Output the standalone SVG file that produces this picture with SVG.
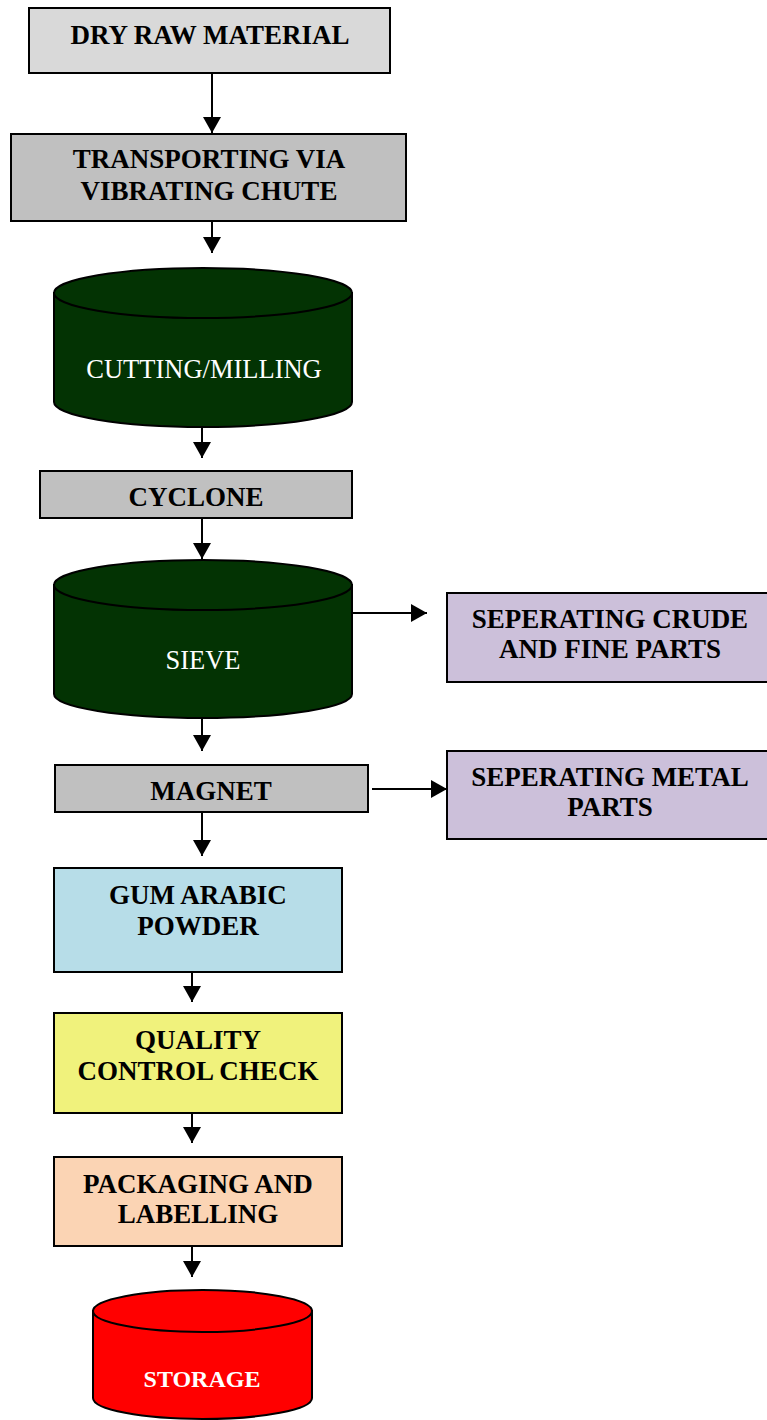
<svg xmlns="http://www.w3.org/2000/svg" width="767" height="1420" viewBox="0 0 767 1420">
<defs>
<style>
.box{stroke:#000;stroke-width:2}
.t{font-family:"Liberation Serif","Times New Roman",serif;font-weight:bold;font-size:27px;fill:#000;text-anchor:middle}
.w{font-family:"Liberation Serif","Times New Roman",serif;font-size:26.5px;fill:#fff;text-anchor:middle}
.c{stroke:#000;stroke-width:2;fill:none;marker-end:url(#ah)}
</style>
<marker id="ah" markerUnits="userSpaceOnUse" markerWidth="18" markerHeight="18" refX="16" refY="9" orient="auto">
<path d="M0,0 L16,9 L0,18 Z" fill="#000"/>
</marker>
</defs>
<rect width="767" height="1420" fill="#fff"/>
<g id="connectors">
<line class="c" x1="212" y1="73" x2="212" y2="133"/>
<line class="c" x1="212" y1="221" x2="212" y2="253"/>
<line class="c" x1="202" y1="427" x2="202" y2="458"/>
<line class="c" x1="202" y1="518" x2="202" y2="559"/>
<line class="c" x1="352" y1="613" x2="427" y2="613"/>
<line class="c" x1="202" y1="718" x2="202" y2="751"/>
<line class="c" x1="372" y1="789" x2="447" y2="789"/>
<line class="c" x1="202" y1="812" x2="202" y2="856"/>
<line class="c" x1="192" y1="972" x2="192" y2="1002"/>
<line class="c" x1="192" y1="1113" x2="192" y2="1143"/>
<line class="c" x1="192" y1="1246" x2="192" y2="1277"/>
</g>
<g id="dry-raw-material">
<rect class="box" x="29" y="8" width="361" height="65" fill="#d9d9d9"/>
<text class="t" x="210" y="44">DRY RAW MATERIAL</text>
</g>
<g id="transporting">
<rect class="box" x="11" y="134" width="395" height="87" fill="#c0c0c0"/>
<text class="t" x="209" y="168">TRANSPORTING VIA</text>
<text class="t" x="209" y="200">VIBRATING CHUTE</text>
</g>
<g id="cutting-milling">
<path class="box" d="M54,293 L54,402 A149,25 0 0 0 352,402 L352,293 Z" fill="#033303"/>
<ellipse class="box" cx="203" cy="293" rx="149" ry="25" fill="#033303"/>
<text class="w" x="204" y="378">CUTTING/MILLING</text>
</g>
<g id="cyclone">
<rect class="box" x="40" y="471" width="312" height="47" fill="#c0c0c0"/>
<text class="t" x="196" y="506">CYCLONE</text>
</g>
<g id="sieve">
<path class="box" d="M54,585 L54,694 A149,24 0 0 0 352,694 L352,585 Z" fill="#033303"/>
<ellipse class="box" cx="203" cy="585" rx="149" ry="25" fill="#033303"/>
<text class="w" x="203" y="669">SIEVE</text>
</g>
<g id="separating-crude">
<rect class="box" x="447" y="593" width="322" height="89" fill="#ccc0da"/>
<text class="t" x="610" y="628">SEPERATING CRUDE</text>
<text class="t" x="610" y="658">AND FINE PARTS</text>
</g>
<g id="magnet">
<rect class="box" x="55" y="765" width="313" height="47" fill="#c0c0c0"/>
<text class="t" x="211" y="800">MAGNET</text>
</g>
<g id="separating-metal">
<rect class="box" x="447" y="751" width="322" height="88" fill="#ccc0da"/>
<text class="t" x="610" y="786">SEPERATING METAL</text>
<text class="t" x="610" y="816">PARTS</text>
</g>
<g id="gum-arabic-powder">
<rect class="box" x="54" y="868" width="288" height="104" fill="#b7dde8"/>
<text class="t" x="198" y="904">GUM ARABIC</text>
<text class="t" x="198" y="935">POWDER</text>
</g>
<g id="quality-control">
<rect class="box" x="54" y="1013" width="288" height="100" fill="#f0f27c"/>
<text class="t" x="198" y="1049">QUALITY</text>
<text class="t" x="198" y="1080">CONTROL CHECK</text>
</g>
<g id="packaging">
<rect class="box" x="54" y="1157" width="288" height="89" fill="#fbd4b4"/>
<text class="t" x="198" y="1193">PACKAGING AND</text>
<text class="t" x="198" y="1223">LABELLING</text>
</g>
<g id="storage">
<path class="box" d="M93,1311 L93,1398 A109.5,21 0 0 0 312,1398 L312,1311 Z" fill="#ff0000"/>
<ellipse class="box" cx="202.5" cy="1311" rx="109.5" ry="21" fill="#ff0000"/>
<text class="t" x="202" y="1387" style="fill:#fff;font-size:24px">STORAGE</text>
</g>
</svg>
